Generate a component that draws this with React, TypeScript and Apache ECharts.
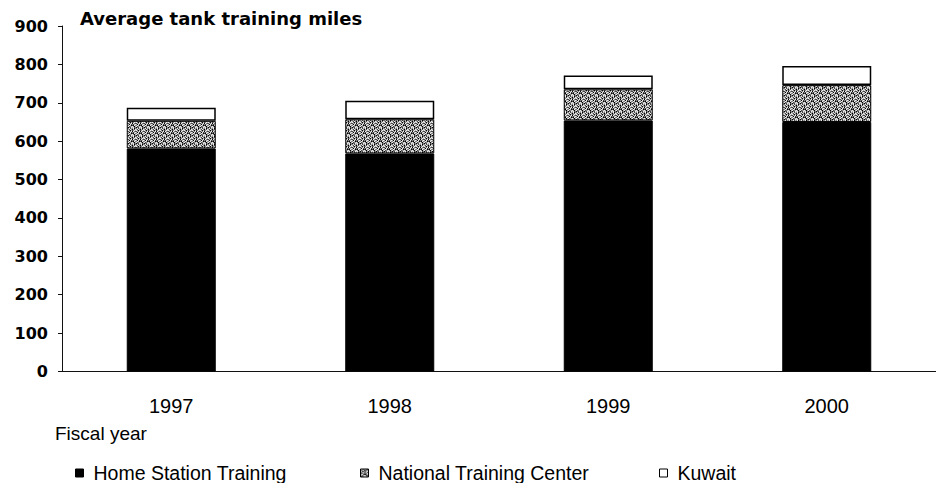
import React, { useEffect, useRef } from "react";
import * as echarts from "echarts";

const categories = ["1997", "1998", "1999", "2000"];
const homeStation = [581, 568, 654, 650];
const nationalTrainingCenter = [72, 89, 81, 96];
const kuwait = [34, 48, 36, 50];
const seriesNames = ["Home Station Training", "National Training Center", "Kuwait"];
const yMin = 0;
const yMax = 900;
const yInterval = 100;

const STIPPLE = [
  "24132402",
  "31420314",
  "42031243",
  "13240421",
  "30412134",
  "24301042",
  "41234203",
  "02143412",
];
const SHADES = ["#000000", "#474747", "#858585", "#b5b5b5", "#eeeeee"];

function makeStipple(): any {
  const c = document.createElement("canvas");
  c.width = 8;
  c.height = 8;
  const ctx = c.getContext("2d");
  if (!ctx) return "#7f7f7f";
  for (let y = 0; y < 8; y++) {
    for (let x = 0; x < 8; x++) {
      ctx.fillStyle = SHADES[Number(STIPPLE[y][x])];
      ctx.fillRect(x, y, 1, 1);
    }
  }
  return { image: c.toDataURL(), repeat: "repeat" };
}

export default function App() {
  const ref = useRef<HTMLDivElement>(null);
  useEffect(() => {
    if (!ref.current) return;
    const chart = echarts.init(ref.current, undefined, { renderer: "svg" });
    const stipple = makeStipple();
    const sans = "'Liberation Sans', Arial, sans-serif";
    const wide = "'DejaVu Sans', sans-serif";
    const legendBase = {
      top: 463,
      padding: 0,
      icon: "rect",
      itemWidth: 8,
      itemHeight: 8,
      selectedMode: false,
      textStyle: { fontFamily: sans, fontSize: 19.5, color: "#000", padding: [0, 0, 0, 5] },
      itemStyle: { borderColor: "#000", borderWidth: 1 },
    };
    chart.setOption({
      animation: false,
      backgroundColor: "#ffffff",
      title: {
        text: "Average tank training miles",
        left: 80,
        top: 9,
        padding: 0,
        textStyle: { fontFamily: wide, fontWeight: "bold", fontSize: 18, color: "#000" },
      },
      legend: [
        { ...legendBase, left: 75, data: [seriesNames[0]] },
        { ...legendBase, left: 360, data: [seriesNames[1]] },
        { ...legendBase, left: 659, data: [seriesNames[2]] },
      ],
      grid: { left: 62, top: 26, width: 886, height: 345.5 },
      xAxis: {
        type: "category",
        data: categories,
        axisLine: { lineStyle: { color: "#111", width: 1 } },
        axisTick: { show: false },
        axisLabel: { margin: 24, fontFamily: sans, fontSize: 20, color: "#000" },
      },
      yAxis: {
        type: "value",
        min: yMin,
        max: yMax,
        interval: yInterval,
        axisLine: { show: true, lineStyle: { color: "#111", width: 1 } },
        axisTick: { show: true, length: 4, lineStyle: { color: "#111" } },
        splitLine: { show: false },
        axisLabel: { margin: 14, fontFamily: wide, fontWeight: "bold", fontSize: 16, color: "#000" },
      },
      graphic: [
        {
          type: "text",
          left: 55,
          top: 424,
          style: { text: "Fiscal year", font: "19px 'Liberation Sans', Arial, sans-serif", fill: "#000" },
        },
      ],
      series: [
        {
          name: seriesNames[0],
          type: "bar",
          stack: "total",
          barWidth: 89,
          data: homeStation,
          itemStyle: { color: "#000000", borderColor: "#000", borderWidth: 1 },
        },
        {
          name: seriesNames[1],
          type: "bar",
          stack: "total",
          barWidth: 89,
          data: nationalTrainingCenter,
          itemStyle: { color: stipple, borderColor: "#000", borderWidth: 1 },
        },
        {
          name: seriesNames[2],
          type: "bar",
          stack: "total",
          barWidth: 89,
          data: kuwait,
          itemStyle: { color: "#ffffff", borderColor: "#000", borderWidth: 1.5 },
        },
      ],
    });
    return () => chart.dispose();
  }, []);
  return (
    <div
      ref={ref}
      style={{ position: "fixed", left: 0, top: 0, width: 936, height: 483, background: "#fff" }}
    />
  );
}
